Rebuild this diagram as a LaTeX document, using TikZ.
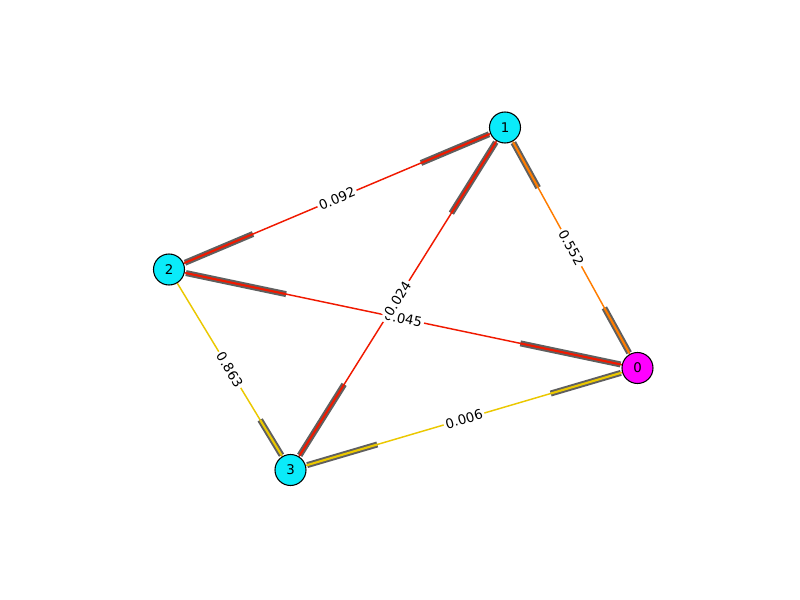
\documentclass[tikz,border=0pt]{standalone}
\usepackage{fontspec}
\setmainfont{DejaVu Sans}
\usetikzlibrary{calc,backgrounds}
\definecolor{ered}{RGB}{240,25,0}
\definecolor{eorange}{RGB}{255,125,0}
\definecolor{egold}{RGB}{235,200,0}
\definecolor{egrey}{RGB}{95,95,95}
\definecolor{ncyan}{RGB}{10,235,250}
\definecolor{nmag}{RGB}{255,0,255}
\tikzset{
  vtx/.style={circle, draw=black, line width=0.8pt, minimum size=23.25pt, inner sep=0pt, font=\fontsize{10}{11}\selectfont},
  thinedge/.style={line width=1.1pt},
  gseg/.style={line width=4.5pt, draw=egrey},
  cseg/.style={line width=1.6pt},
  lab/.style={midway, sloped, fill=white, inner sep=1.5pt, font=\fontsize{10}{11}\selectfont}
}
\newcommand{\tipseg}[3]{%
  \draw[gseg] ($(#1)!13pt!(#2)$) -- ($(#1)!0.25!(#2)$);
  \draw[cseg,draw=#3] ($(#1)!13pt!(#2)$) -- ($(#1)!0.25!(#2)$);
}
\begin{document}
\begin{tikzpicture}[x=0.75pt,y=-0.75pt]
\useasboundingbox (0,0) rectangle (800,600);
\node[vtx, fill=ncyan] (n1) at (505,127.5) {1};
\node[vtx, fill=ncyan] (n2) at (169,269.5) {2};
\node[vtx, fill=ncyan] (n3) at (290.5,470) {3};
\node[vtx, fill=nmag]  (n0) at (637.5,368) {0};
\begin{pgfonlayer}{background}
\fill[white] (0,0) rectangle (800,600);
\draw[thinedge, draw=ered] (n1) -- (n2);
\draw[thinedge, draw=ered] (n1) -- (n3);
\draw[thinedge, draw=eorange] (n1) -- (n0);
\draw[thinedge, draw=ered] (n2) -- (n0);
\draw[thinedge, draw=egold] (n2) -- (n3);
\draw[thinedge, draw=egold] (n3) -- (n0);
\tipseg{n1}{n2}{ered}
\tipseg{n2}{n1}{ered}
\tipseg{n1}{n3}{ered}
\tipseg{n3}{n1}{ered}
\tipseg{n1}{n0}{eorange}
\tipseg{n0}{n1}{eorange}
\tipseg{n2}{n0}{ered}
\tipseg{n0}{n2}{ered}
\tipseg{n3}{n2}{egold}
\tipseg{n3}{n0}{egold}
\tipseg{n0}{n3}{egold}
\path (n1) -- (n2) node[lab] {0.092};
\path (n1) -- (n0) node[lab] {0.552};
\path (n2) -- (n3) node[lab] {0.863};
\path (n3) -- (n0) node[lab] {0.006};
\path (n2) -- (n0) node[lab] {0.045};
\path (n1) -- (n3) node[lab] {0.024};
\end{pgfonlayer}
\end{tikzpicture}
\end{document}
